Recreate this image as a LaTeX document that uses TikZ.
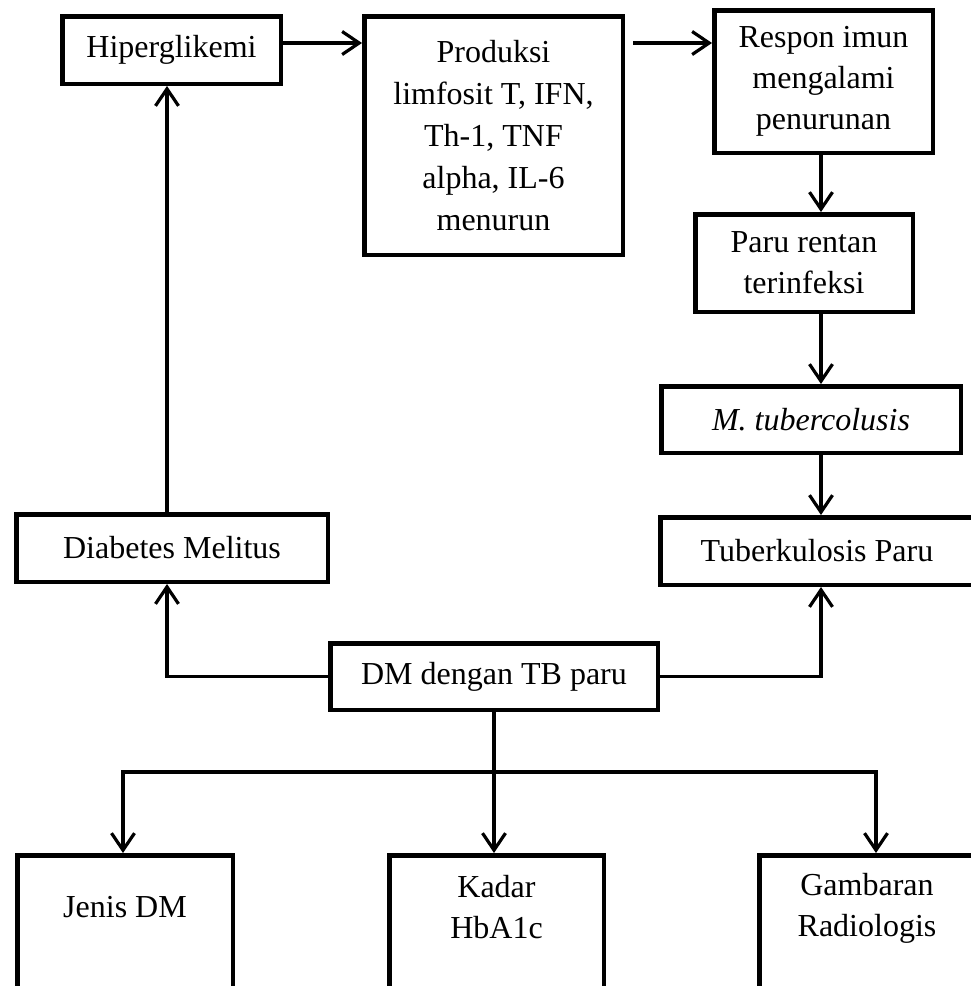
\documentclass[tikz,border=0pt]{standalone}
\usepackage{fontspec}
\setmainfont{Liberation Serif}
\usetikzlibrary{arrows.meta,calc}
\begin{document}
\begin{tikzpicture}[x=1pt,y=-1pt,
  box/.style={draw, line width=4.5pt, rectangle, inner sep=0pt, align=center,
    font=\fontsize{32}{41}\selectfont},
  txt/.style={inner sep=0pt, align=center, font=\fontsize{32}{41}\selectfont},
  arr/.style={line width=3.2pt, -{Straight Barb[length=17pt,width=23pt]}}]
\useasboundingbox (0,0) rectangle (971,986);
\clip (0,0) rectangle (971,986);
% boxes
\node[box, minimum width=218.5, minimum height=67.5] (hip) at (171.5,50) {Hiperglikemi};
\node[box, minimum width=258.5, minimum height=238.5, font=\fontsize{32}{42}\selectfont] (prod) at (493.5,135.5) {Produksi\\limfosit T, IFN,\\Th-1, TNF\\alpha, IL-6\\menurun};
\node[box, minimum width=218.5, minimum height=142.5] (resp) at (823.5,81.5) {Respon imun\\mengalami\\penurunan};
\node[box, minimum width=217.5, minimum height=97.5] (paru) at (804,263) {Paru rentan\\terinfeksi};
\node[box, minimum width=299.5, minimum height=66.5] (mtb) at (811,419.5) {\itshape M. tubercolusis};
\node[box, minimum width=313.5, minimum height=67.5] (tub) at (817,551) {Tuberkulosis Paru};
\node[box, minimum width=311.5, minimum height=67.5] (dia) at (172,548) {Diabetes Melitus};
\node[box, minimum width=327.5, minimum height=66.5] (dmtb) at (494,676.5) {DM dengan TB paru};
\node[box, anchor=north, minimum width=215.5, minimum height=300] (jenis) at (125,853) {};
\node[box, anchor=north, minimum width=214.5, minimum height=300] (kadar) at (496.5,853) {};
\node[box, anchor=north, minimum width=215.5, minimum height=300] (gamb) at (867,853) {};
\node[txt] (jenist) at (125,907) {Jenis DM};
\node[txt] (kadart) at (496.5,907.5) {Kadar\\HbA1c};
\node[txt] (gambt) at (867,908.5) {Gambaran\\Radiologis};
% helper coordinates
\coordinate (ya) at (0,43);
\coordinate (pa) at (633,43);
\coordinate (ax) at (821,0);
\coordinate (bx) at (167,0);
\coordinate (hb) at (494,772);
\coordinate (c1) at (123,0);
\coordinate (c2) at (876,0);
% connectors
\draw[arr] (hip.east |- ya) -- (prod.west |- ya);
\draw[arr] (pa) -- (resp.west |- pa);
\draw[arr] (resp.south -| ax) -- (paru.north -| ax);
\draw[arr] (paru.south -| ax) -- (mtb.north -| ax);
\draw[arr] (mtb.south -| ax) -- (tub.north -| ax);
\draw[arr] (dmtb.east) -| (tub.south -| ax);
\draw[arr] (dmtb.west) -| (dia.south -| bx);
\draw[arr] (dia.north -| bx) -- (hip.south -| bx);
\draw[arr] (dmtb.south) -- (dmtb.south |- kadar.north);
\draw[arr] (hb) -| (jenis.north -| c1);
\draw[arr] (hb) -| (gamb.north -| c2);
\end{tikzpicture}
\end{document}
